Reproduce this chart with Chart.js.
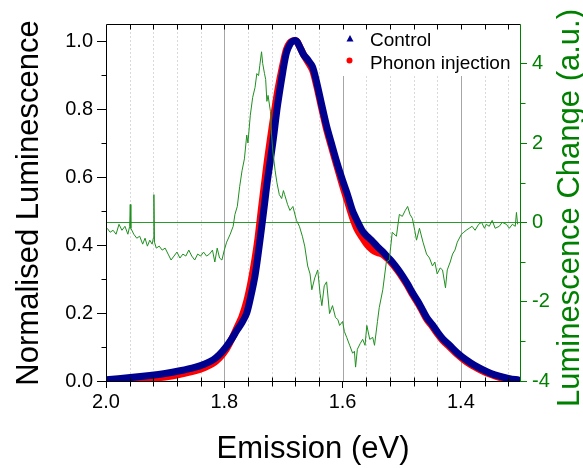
<!DOCTYPE html>
<html>
<head>
<meta charset="utf-8">
<script src="https://cdn.jsdelivr.net/npm/chart.js@4.4.1/dist/chart.umd.min.js"></script>
<style>
  html, body { margin: 0; padding: 0; background: #ffffff; }
  canvas { display: block; }
</style>
</head>
<body>
<canvas id="chart" width="583" height="468"></canvas>
<script>
// ---- Axis ticks ----
const energyTicks = [2.0, 1.8, 1.6, 1.4];
const energyMinor = [1.96, 1.92, 1.88, 1.84, 1.76, 1.72, 1.68, 1.64, 1.56, 1.52, 1.48, 1.44, 1.36, 1.32];
const lumTicks = [0, 0.2, 0.4, 0.6, 0.8, 1.0];
const lumMinor = [0.1, 0.3, 0.5, 0.7, 0.9];
const changeTicks = [-4, -2, 0, 2, 4];
const changeMinor = [-3, -1, 1, 3];

// ---- Control spectrum (normalised) ----
const controlEnergy = [2.000, 1.959, 1.926, 1.900, 1.875, 1.850, 1.833, 1.819, 1.808, 1.797,
  1.787, 1.779, 1.770, 1.762, 1.755, 1.748, 1.743, 1.737, 1.732, 1.727,
  1.718, 1.710, 1.701, 1.695, 1.689, 1.684, 1.678, 1.673, 1.666, 1.659,
  1.651, 1.644, 1.635, 1.627, 1.619, 1.610, 1.600, 1.592, 1.583, 1.575,
  1.566, 1.558, 1.549, 1.541, 1.532, 1.524, 1.516, 1.507, 1.499, 1.490,
  1.482, 1.473, 1.465, 1.457, 1.448, 1.440, 1.431, 1.419, 1.406, 1.391,
  1.377, 1.364, 1.349, 1.335, 1.318, 1.303];
const controlLum = [0.004, 0.010, 0.016, 0.022, 0.030, 0.040, 0.050, 0.062, 0.078, 0.100,
  0.125, 0.148, 0.172, 0.200, 0.250, 0.310, 0.370, 0.450, 0.520, 0.590,
  0.700, 0.810, 0.910, 0.965, 0.990, 1.000, 1.000, 0.985, 0.960, 0.945,
  0.925, 0.880, 0.810, 0.750, 0.700, 0.645, 0.590, 0.550, 0.500, 0.470,
  0.440, 0.425, 0.410, 0.395, 0.380, 0.365, 0.350, 0.330, 0.310, 0.285,
  0.260, 0.235, 0.210, 0.185, 0.165, 0.145, 0.125, 0.105, 0.083, 0.062,
  0.046, 0.034, 0.022, 0.014, 0.007, 0.003];

// ---- Phonon injection spectrum (normalised) ----
const phononEnergy = [2.000, 1.959, 1.926, 1.900, 1.875, 1.850, 1.833, 1.819, 1.808, 1.797,
  1.787, 1.779, 1.770, 1.762, 1.755, 1.748, 1.743, 1.737, 1.732, 1.727,
  1.718, 1.710, 1.701, 1.695, 1.689, 1.684, 1.678, 1.673, 1.666, 1.659,
  1.651, 1.644, 1.635, 1.627, 1.619, 1.610, 1.600, 1.592, 1.583, 1.575,
  1.566, 1.558, 1.549, 1.541, 1.532, 1.524, 1.516, 1.507, 1.499, 1.490,
  1.482, 1.473, 1.465, 1.457, 1.448, 1.440, 1.431, 1.419, 1.406, 1.391,
  1.377, 1.364, 1.349, 1.335, 1.318, 1.303];
const phononLum = [0.000, 0.002, 0.007, 0.012, 0.020, 0.030, 0.040, 0.052, 0.068, 0.092,
  0.125, 0.155, 0.190, 0.235, 0.290, 0.360, 0.420, 0.510, 0.580, 0.650,
  0.760, 0.850, 0.930, 0.975, 0.995, 1.000, 1.000, 0.985, 0.960, 0.940,
  0.915, 0.870, 0.800, 0.740, 0.690, 0.635, 0.575, 0.530, 0.480, 0.445,
  0.420, 0.400, 0.385, 0.378, 0.372, 0.360, 0.345, 0.325, 0.305, 0.280,
  0.255, 0.230, 0.205, 0.180, 0.160, 0.140, 0.120, 0.100, 0.078, 0.057,
  0.042, 0.030, 0.019, 0.011, 0.005, 0.002];

// ---- Luminescence change (a.u.) ----
const changeEnergy = [
  1.998, 1.993, 1.988, 1.983, 1.978, 1.973, 1.968, 1.963, 1.960, 1.959,
  1.958, 1.953, 1.948, 1.943, 1.938, 1.934, 1.930, 1.926, 1.922, 1.920,
  1.919, 1.918, 1.915, 1.910, 1.905, 1.900, 1.895, 1.890, 1.885, 1.880,
  1.875, 1.870, 1.865, 1.860, 1.855, 1.850, 1.845, 1.840, 1.835, 1.830,
  1.825, 1.820, 1.816, 1.812, 1.808, 1.804, 1.800, 1.796, 1.790, 1.785,
  1.782, 1.778, 1.774, 1.770, 1.766, 1.762, 1.760, 1.756, 1.752, 1.748,
  1.745, 1.742, 1.740, 1.737, 1.735, 1.732, 1.730, 1.728, 1.726, 1.722,
  1.720, 1.718, 1.714, 1.711, 1.707, 1.703, 1.700, 1.698, 1.693, 1.689,
  1.684, 1.678, 1.673, 1.668, 1.664, 1.659, 1.655, 1.652, 1.647, 1.642,
  1.638, 1.635, 1.631, 1.627, 1.622, 1.617, 1.612, 1.608, 1.605, 1.600,
  1.597, 1.593, 1.588, 1.583, 1.580, 1.578, 1.575, 1.570, 1.566, 1.562,
  1.559, 1.554, 1.549, 1.546, 1.541, 1.538, 1.532, 1.526, 1.521, 1.516,
  1.509, 1.504, 1.499, 1.494, 1.490, 1.486, 1.482, 1.478, 1.475, 1.470,
  1.464, 1.458, 1.453, 1.448, 1.444, 1.440, 1.435, 1.431, 1.426, 1.423,
  1.418, 1.414, 1.410, 1.406, 1.399, 1.395, 1.391, 1.386, 1.381, 1.376,
  1.370, 1.365, 1.360, 1.357, 1.352, 1.347, 1.342, 1.335, 1.330, 1.323,
  1.318, 1.313, 1.308, 1.306, 1.304];
const changeValue = [
  -0.15, -0.25, -0.20, -0.30, -0.05, -0.20, -0.10, -0.30, -0.10, 0.45,
  -0.15, -0.30, -0.40, -0.35, -0.55, -0.40, -0.60, -0.45, -0.55, -0.40,
  0.70, -0.50, -0.65, -0.60, -0.70, -0.65, -0.80, -0.95, -0.85, -0.75,
  -0.90, -0.80, -0.85, -0.70, -0.85, -0.95, -0.80, -0.85, -0.75, -0.85,
  -0.80, -0.70, -1.00, -0.65, -0.90, -0.95, -0.70, -0.50, -0.30, -0.10,
  0.20, 0.40, 0.90, 1.30, 1.60, 2.20, 2.00, 2.70, 3.15, 3.40,
  3.75, 3.70, 3.95, 4.30, 4.00, 3.75, 3.60, 3.05, 3.20, 2.80,
  2.20, 1.80, 1.30, 1.00, 0.70, 0.60, 0.80, 0.70, 0.45, 0.30,
  0.40, 0.05, -0.10, -0.35, -0.60, -1.10, -1.30, -1.70, -1.40, -1.20,
  -1.80, -2.10, -1.60, -1.50, -2.30, -2.10, -2.40, -2.45, -2.60, -2.50,
  -2.75, -2.90, -3.10, -3.30, -3.25, -3.65, -3.20, -3.05, -2.95, -3.10,
  -2.60, -2.95, -2.90, -3.10, -2.50, -2.15, -1.70, -1.00, -0.95, -0.25,
  -0.35, 0.20, 0.15, 0.30, 0.40, 0.20, 0.10, -0.20, -0.45, -0.15,
  -0.50, -0.80, -0.90, -1.10, -1.00, -1.30, -1.15, -1.20, -1.65, -1.20,
  -1.00, -0.80, -0.70, -0.50, -0.30, -0.25, -0.20, -0.15, -0.10, -0.20,
  -0.05, 0.00, -0.15, -0.05, -0.10, 0.05, -0.15, -0.10, 0.00, -0.05,
  -0.15, -0.05, -0.10, 0.25, -0.05];

const FONT = '"Liberation Sans", Arial, Helvetica, sans-serif';
const GREEN = '#008000';
const BLUE = '#00008f';
const RED = '#ff0000';

const toPoints = (xs, ys) => xs.map((x, i) => ({ x: x, y: ys[i] }));
const px = v => Math.round(v) + 0.5;

// Grid lines, frame, minor ticks, legend and rotated titles
const decor = {
  id: 'decor',
  beforeDatasetsDraw(chart) {
    const { ctx, chartArea: a, scales } = chart;
    const x = scales.x, y2 = scales.y2;
    ctx.save();
    ctx.lineWidth = 1;
    // dotted minor grid
    ctx.strokeStyle = '#d9d9d9';
    ctx.setLineDash([2, 2]);
    energyMinor.forEach(v => {
      const p = px(x.getPixelForValue(v));
      ctx.beginPath(); ctx.moveTo(p, a.top); ctx.lineTo(p, a.bottom); ctx.stroke();
    });
    ctx.setLineDash([]);
    // solid major grid
    ctx.strokeStyle = '#a6a6a6';
    energyTicks.slice(1).forEach(v => {
      const p = px(x.getPixelForValue(v));
      ctx.beginPath(); ctx.moveTo(p, a.top); ctx.lineTo(p, a.bottom); ctx.stroke();
    });
    // legend background
    ctx.fillStyle = '#ffffff';
    ctx.fillRect(330, a.top + 1, a.right - 331, 51);
    // zero line of the change axis
    ctx.strokeStyle = '#2a9a2a';
    const z = px(y2.getPixelForValue(0));
    ctx.beginPath(); ctx.moveTo(a.left, z); ctx.lineTo(a.right, z); ctx.stroke();
    ctx.restore();
  },
  afterDatasetsDraw(chart) {
    const { ctx, chartArea: a, scales } = chart;
    const x = scales.x, y = scales.y, y2 = scales.y2;
    const L = px(a.left), R = px(a.right), T = px(a.top), B = px(a.bottom);
    ctx.save();
    ctx.lineWidth = 1;
    // frame
    ctx.strokeStyle = '#000000';
    ctx.beginPath();
    ctx.moveTo(R, T); ctx.lineTo(L, T); ctx.lineTo(L, B); ctx.lineTo(R, B);
    ctx.stroke();
    ctx.strokeStyle = GREEN;
    ctx.beginPath(); ctx.moveTo(R, T); ctx.lineTo(R, B + 0.5); ctx.stroke();
    // top inward ticks and bottom minor ticks
    ctx.strokeStyle = '#000000';
    energyMinor.concat(energyTicks.slice(1)).forEach(v => {
      const p = px(x.getPixelForValue(v));
      ctx.beginPath(); ctx.moveTo(p, T); ctx.lineTo(p, T + 5); ctx.stroke();
    });
    energyMinor.forEach(v => {
      const p = px(x.getPixelForValue(v));
      ctx.beginPath(); ctx.moveTo(p, B - 4); ctx.lineTo(p, B + 5); ctx.stroke();
    });
    // left minor ticks
    lumMinor.forEach(v => {
      const p = px(y.getPixelForValue(v));
      ctx.beginPath(); ctx.moveTo(L - 5, p); ctx.lineTo(L, p); ctx.stroke();
    });
    // right minor ticks
    ctx.strokeStyle = GREEN;
    changeMinor.forEach(v => {
      const p = px(y2.getPixelForValue(v));
      ctx.beginPath(); ctx.moveTo(R, p); ctx.lineTo(R + 5, p); ctx.stroke();
    });
    // legend
    ctx.fillStyle = BLUE;
    ctx.beginPath();
    ctx.moveTo(350, 35); ctx.lineTo(353.5, 41.5); ctx.lineTo(346.5, 41.5); ctx.closePath();
    ctx.fill();
    ctx.fillStyle = RED;
    ctx.beginPath(); ctx.arc(349.5, 60.5, 3, 0, Math.PI * 2); ctx.fill();
    ctx.fillStyle = '#000000';
    ctx.font = '19px ' + FONT;
    ctx.textAlign = 'left';
    ctx.textBaseline = 'alphabetic';
    ctx.fillText('Control', 370, 46);
    ctx.fillText('Phonon injection', 370, 69);
    ctx.restore();
  },
  afterDraw(chart) {
    const { ctx, chartArea: a } = chart;
    ctx.save();
    ctx.font = '31px ' + FONT;
    ctx.textAlign = 'center';
    ctx.textBaseline = 'alphabetic';
    ctx.fillStyle = '#000000';
    ctx.fillText('Emission (eV)', (a.left + a.right) / 2, 458);
    ctx.save();
    ctx.translate(38, 203);
    ctx.rotate(-Math.PI / 2);
    ctx.fillText('Normalised Luminescence', 0, 0);
    ctx.restore();
    ctx.fillStyle = GREEN;
    ctx.translate(579, 208);
    ctx.rotate(-Math.PI / 2);
    ctx.fillText('Luminescence Change (a.u.)', 0, 0);
    ctx.restore();
  }
};

const tickFont = { family: FONT, size: 20 };

new Chart(document.getElementById('chart'), {
  type: 'line',
  data: {
    datasets: [
      {
        label: 'Luminescence change',
        data: toPoints(changeEnergy, changeValue),
        yAxisID: 'y2',
        borderColor: '#1f8f1f',
        borderWidth: 1,
        pointRadius: 0,
        tension: 0
      },
      {
        label: 'Control',
        data: toPoints(controlEnergy, controlLum),
        yAxisID: 'y',
        borderColor: BLUE,
        borderWidth: 7,
        borderJoinStyle: 'round',
        borderCapStyle: 'round',
        pointRadius: 0,
        tension: 0.3
      },
      {
        label: 'Phonon injection',
        data: toPoints(phononEnergy, phononLum),
        yAxisID: 'y',
        borderColor: RED,
        borderWidth: 7,
        borderJoinStyle: 'round',
        borderCapStyle: 'round',
        pointRadius: 0,
        tension: 0.3
      }
    ]
  },
  options: {
    responsive: false,
    devicePixelRatio: 1,
    animation: false,
    layout: { padding: { top: 24, left: 0, right: 0, bottom: 0 } },
    plugins: { legend: { display: false }, tooltip: { enabled: false } },
    scales: {
      x: {
        type: 'linear', position: 'bottom', reverse: true, min: 1.3, max: 2.0,
        afterBuildTicks: s => { s.ticks = energyTicks.map(v => ({ value: v })); },
        afterFit: s => { s.height = 87; },
        ticks: { callback: v => Number(v).toFixed(1), font: tickFont, color: '#000', padding: 2, maxRotation: 0, autoSkip: false },
        grid: { display: true, drawOnChartArea: false, drawTicks: true, tickLength: 7, tickColor: '#000', tickWidth: 1 },
        border: { display: false }
      },
      y: {
        type: 'linear', position: 'left', min: 0, max: 1.05,
        afterBuildTicks: s => { s.ticks = lumTicks.map(v => ({ value: v })); },
        afterFit: s => { s.width = 106; },
        ticks: { callback: v => Number(v).toFixed(1), font: tickFont, color: '#000', padding: 4, autoSkip: false },
        grid: { display: true, drawOnChartArea: false, drawTicks: true, tickLength: 9, tickColor: '#000', tickWidth: 1 },
        border: { display: false }
      },
      y2: {
        type: 'linear', position: 'right', min: -4, max: 5,
        afterBuildTicks: s => { s.ticks = changeTicks.map(v => ({ value: v })); },
        afterFit: s => { s.width = 63; },
        ticks: { callback: v => String(v), font: tickFont, color: GREEN, padding: 5, autoSkip: false },
        grid: { display: true, drawOnChartArea: false, drawTicks: true, tickLength: 7, tickColor: GREEN, tickWidth: 1 },
        border: { display: false }
      }
    }
  },
  plugins: [decor]
});
</script>
</body>
</html>
